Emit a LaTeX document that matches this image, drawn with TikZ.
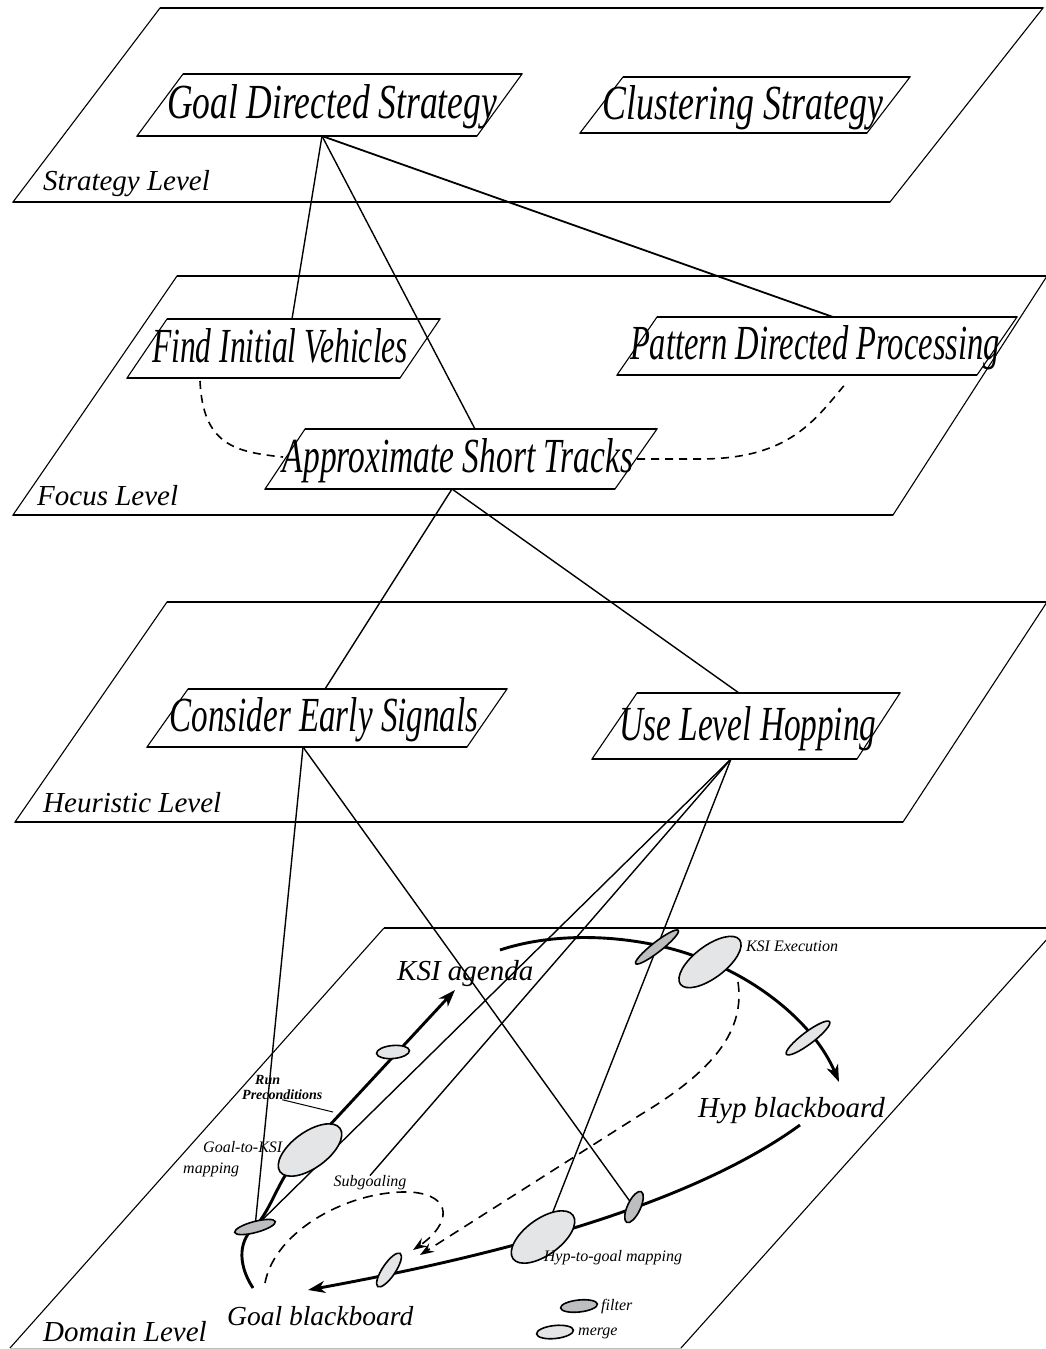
\documentclass[tikz,border=0pt]{standalone}
\usepackage{fontspec}
\setmainfont{Liberation Serif}
\usetikzlibrary{arrows.meta,shapes.geometric}
\pgfdeclarelayer{bg}
\pgfsetlayers{bg,main}
\definecolor{mergegray}{HTML}{E4E5E7}
\definecolor{filtergray}{HTML}{BDBEC0}
\newcommand{\pgbox}[6]{%
  \draw[pgs] (#1,#6) -- (#3,#5) -- (#4,#5) -- (#2,#6) -- cycle;
  \draw[pge] (#3,#5) -- (#4,#5) (#1,#6) -- (#2,#6);}
\newcommand{\blabtxt}[2]{\resizebox{#1pt}{34pt}{#2}}
\begin{document}
\begin{tikzpicture}[x=1pt,y=-1pt,
  pgs/.style={line width=1.1pt, line join=miter},
  pge/.style={line width=2.2pt},
  connline/.style={line width=1.4pt},
  dconn/.style={line width=1.6pt, dash pattern=on 8pt off 6pt},
  flow/.style={line width=2.9pt},
  dflow/.style={line width=1.6pt, dash pattern=on 10pt off 7pt},
  ellbase/.style={ellipse, draw, line width=1.6pt, inner sep=0pt, outer sep=0pt},
  mergeell/.style={ellbase, fill=mergegray},
  filterell/.style={ellbase, fill=filtergray},
  lvl/.style={font=\fontsize{29}{29}\selectfont\itshape, anchor=base west, inner sep=0pt},
  boxlab/.style={font=\fontsize{40}{40}\selectfont\itshape, anchor=base, inner sep=0pt},
  biglab/.style={font=\fontsize{29}{29}\selectfont\itshape, anchor=base west, inner sep=0pt},
  smalllab/.style={font=\fontsize{16}{16}\selectfont\itshape, inner sep=0pt},
  flowarrow/.style={-{Stealth[length=17pt,width=12pt,inset=5pt]}},
  dasharrow/.style={-{Stealth[length=14pt,width=10pt,inset=5pt]}},
]
\useasboundingbox (0,0) rectangle (1046,1349);
\clip (0,0) rectangle (1046,1349);

% ---------- planes ----------
\pgbox{13}{890}{160}{1043}{8}{202}
\pgbox{13}{893}{177}{1047}{276}{515}
\pgbox{15}{903}{167}{1047}{602}{822}
\draw[pgs] (10,1348) -- (384,928) (1057,928) -- (681,1348);
\draw[pge] (384,928) -- (1057,928);
\draw[line width=1pt, black!25] (10,1348) -- (681,1348);

\node[lvl] (lstr) at (43,190) {Strategy Level};
\node[lvl] (lfoc) at (37,505) {Focus Level};
\node[lvl] (lheu) at (43,812) {Heuristic Level};
\node[lvl] (ldom) at (43,1341) {Domain Level};

% ---------- boxes ----------
\pgbox{137}{477}{183}{522}{74}{136}
\pgbox{580}{867}{623}{910}{77}{133}
\pgbox{127}{400}{167}{440}{319}{378}
\pgbox{617}{977}{657}{1017}{317}{375}
\pgbox{265}{615}{305}{657}{429}{489}
\pgbox{147}{467}{188}{507}{689}{747}
\pgbox{592}{857}{637}{900}{693}{759}

\node[boxlab] (gds) at (332,118) {\blabtxt{330}{Goal Directed Strategy}};
\node[boxlab] (cls) at (743,119) {\blabtxt{280}{Clustering Strategy}};
\node[boxlab] (fiv) at (280,362) {\blabtxt{256}{Find Initial Vehicles}};
\node[boxlab] (pdp) at (815,359) {\blabtxt{370}{Pattern Directed Processing}};
\node[boxlab] (ast) at (458,472) {\blabtxt{350}{Approximate Short Tracks}};
\node[boxlab] (ces) at (324,731) {\blabtxt{309}{Consider Early Signals}};
\node[boxlab] (ulh) at (748,740) {\blabtxt{257}{Use Level Hopping}};

% connection points
\coordinate (gds-s) at (322,136);
\coordinate (fiv-n) at (292,319);
\coordinate (ast-n) at (475,429);
\coordinate (pdp-n) at (833,317);
\coordinate (ast-s) at (452,489);
\coordinate (ces-n) at (325,689);
\coordinate (ulh-n) at (739,693);
\coordinate (ces-s) at (303,747);
\coordinate (ulh-s) at (731,759);
\coordinate (fiv-d) at (200,381);
\coordinate (ast-w) at (283,457);
\coordinate (ast-e) at (637,459);
\coordinate (pdp-d) at (847,382);

% ---------- domain ellipses ----------
\node[filterell, minimum width=42pt, minimum height=11pt, rotate=15] (f1) at (255,1227) {};
\node[mergeell, minimum width=74pt, minimum height=36pt, rotate=36] (g2k) at (310,1150) {};
\node[mergeell, minimum width=33pt, minimum height=13pt, rotate=5] (m0) at (393,1052) {};
\node[filterell, minimum width=54pt, minimum height=10pt, rotate=38] (f2) at (657,947) {};
\node[mergeell, minimum width=74pt, minimum height=32pt, rotate=37] (kex) at (710,962) {};
\node[mergeell, minimum width=54pt, minimum height=12pt, rotate=37] (m1) at (808,1038) {};
\node[filterell, minimum width=34pt, minimum height=13pt, rotate=65] (f3) at (634,1207) {};
\node[mergeell, minimum width=74pt, minimum height=36pt, rotate=36] (htg) at (543,1237) {};
\node[mergeell, minimum width=40pt, minimum height=13pt, rotate=56] (m2) at (389,1270) {};
\node[filterell, minimum width=37pt, minimum height=12pt, rotate=6] (lf) at (579,1306) {};
\node[mergeell, minimum width=37pt, minimum height=13pt, rotate=6] (lm) at (555,1332) {};

% ---------- domain labels ----------
\node[biglab] (ksiag) at (397,980) {KSI agenda};
\node[biglab] (hypbb) at (698,1117) {Hyp blackboard};
\node[biglab, font=\fontsize{27.5}{27.5}\selectfont\itshape] (goalbb) at (227,1325) {Goal blackboard};
\node[smalllab, font=\fontsize{14}{15}\selectfont\bfseries\itshape, align=left, anchor=north west] (runpre) at (242,1075) {\hspace*{13pt}Run\\Preconditions};
\node[smalllab, font=\fontsize{16}{21}\selectfont\itshape, align=left, anchor=north west] (g2klab) at (183,1141) {\hspace*{20pt}Goal-to-KSI\\mapping};
\node[smalllab] (subg) at (370,1183) {Subgoaling};
\node[smalllab] (kexlab) at (792,946) {KSI Execution};
\node[smalllab] (htglab) at (613,1258) {Hyp-to-goal mapping};
\node[smalllab, anchor=west] (lflab) at (601,1307) {filter};
\node[smalllab, anchor=west] (lmlab) at (578,1333) {merge};

\coordinate (kstart) at (253,1288);
\coordinate (ktip) at (455,990);
\coordinate (arcstart) at (500,950);
\coordinate (arctip) at (839,1082);
\coordinate (hstart) at (800,1125);
\coordinate (htip) at (308,1290);
\coordinate (dstart) at (738,982);
\coordinate (dtip) at (420,1255);
\coordinate (sstart) at (265,1283);
\coordinate (stip) at (413,1250);
\coordinate (rpend) at (333,1112);

\begin{pgfonlayer}{bg}
  % strategy -> focus -> heuristic
  \draw[connline] (gds-s) -- (fiv-n);
  \draw[connline] (gds-s) -- (ast-n);
  \draw[connline, line width=1.8pt] (gds-s) -- (pdp-n);
  \draw[connline] (ast-s) -- (ces-n);
  \draw[connline] (ast-s) -- (ulh-n);
  % heuristic -> domain
  \draw[connline] (ces-s) -- (f1.center);
  \draw[connline] (ces-s) -- (f3.center);
  \draw[connline] (ulh-s) -- (f1.center);
  \draw[connline] (ulh-s) -- (subg.north);
  \draw[connline] (ulh-s) -- (htg.center);
  % focus dashed
  \draw[dconn] (fiv-d) .. controls (203,445) and (235,452) .. (ast-w);
  \draw[dconn] (ast-e) -- (700,459) .. controls (790,459) and (815,420) .. (pdp-d);
  % domain flows
  \draw[flow, flowarrow] (kstart) .. controls (236,1262) and (240,1238) .. (f1.center)
      .. controls (270,1210) and (276,1188) .. (290,1168) -- (ktip);
  \draw[flow, flowarrow] (arcstart) .. controls (560,930) and (640,935) .. (700,958)
      .. controls (760,980) and (815,1025) .. (arctip);
  \draw[flow, flowarrow] (hstart) .. controls (690,1205) and (500,1255) .. (htip);
  \draw[dflow, dasharrow] (dstart) .. controls (745,1030) and (715,1070) .. (640,1115) -- (dtip);
  \draw[dflow, dasharrow] (sstart) .. controls (275,1230) and (350,1190) .. (410,1192)
      .. controls (455,1195) and (450,1225) .. (stip);
  \draw[line width=1pt] (runpre.south) -- (rpend);
\end{pgfonlayer}
\end{tikzpicture}
\end{document}
